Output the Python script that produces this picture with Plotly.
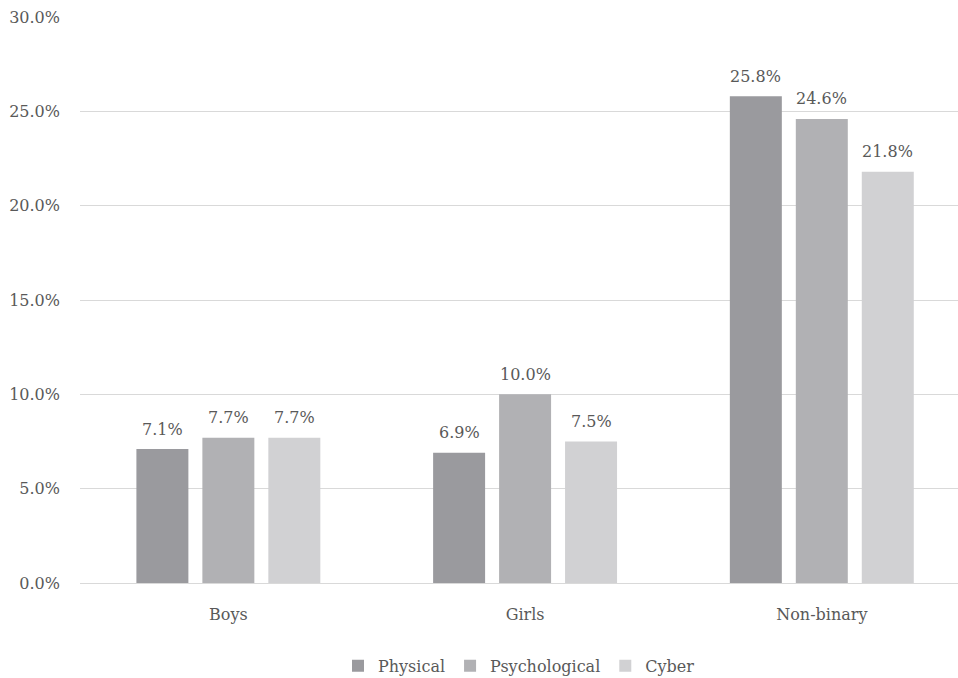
import plotly.graph_objects as go

categories = ["Boys", "Girls", "Non-binary"]
series_names = ["Physical", "Psychological", "Cyber"]
physical = [7.1, 6.9, 25.8]
psychological = [7.7, 10.0, 24.6]
cyber = [7.7, 7.5, 21.8]
colors = ["#9a9a9e", "#b1b1b4", "#d1d1d3"]
y_ticks = [0, 5, 10, 15, 20, 25, 30]

font_family = "DejaVu Serif"
text_color = "#595959"
bargap = 0.333
bargroupgap = 0.212

fig = go.Figure()
all_series = [physical, psychological, cyber]
for name, vals, col in zip(series_names, all_series, colors):
    fig.add_trace(go.Bar(
        x=categories, y=vals, name=name, marker_color=col, marker_line_width=0,
    ))

# value labels above each bar
slot = (1 - bargap) / len(all_series)
for j, vals in enumerate(all_series):
    off = (j - (len(all_series) - 1) / 2) * slot
    for i, v in enumerate(vals):
        fig.add_annotation(
            x=i + off, y=v, xref="x", yref="y", text=f"{v:.1f}%",
            showarrow=False, yanchor="middle", yshift=20,
            font=dict(family=font_family, size=16, color=text_color),
        )

fig.update_layout(
    width=958, height=678,
    margin=dict(l=80, r=0, t=17, b=95),
    paper_bgcolor="white", plot_bgcolor="white",
    barmode="group", bargap=bargap, bargroupgap=bargroupgap,
    font=dict(family=font_family, size=16, color=text_color),
    legend=dict(orientation="h", x=0.5, xanchor="center",
                yref="container", y=0.018, yanchor="middle",
                font=dict(family=font_family, size=16, color=text_color),
                itemwidth=30, tracegroupgap=0),
    showlegend=True,
)
fig.update_xaxes(range=[-0.5, 2.459], showgrid=False, showline=False, ticks="",
                 tickfont=dict(family=font_family, size=16, color=text_color), ticklabelstandoff=20)
fig.update_yaxes(range=[0, 30], tickvals=y_ticks, ticktext=[f"{v:.1f}%" for v in y_ticks],
                 showgrid=True, gridcolor="#d9d9d9", gridwidth=1.3,
                 zeroline=True, zerolinecolor="#d9d9d9", zerolinewidth=1.3,
                 showline=False, ticks="", ticklabelstandoff=19,
                 tickfont=dict(family=font_family, size=16, color=text_color))

fig.write_html("out.html")
